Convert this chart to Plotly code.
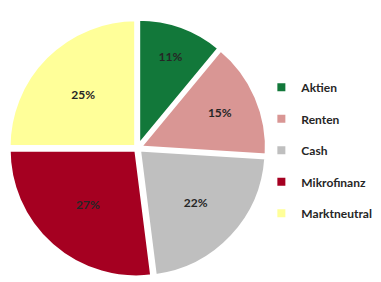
import plotly.graph_objects as go

categories = ["Aktien", "Renten", "Cash", "Mikrofinanz", "Marktneutral"]
values = [11, 15, 22, 27, 25]
colors = ["#12783a", "#d99694", "#bfbfbf", "#a50021", "#ffff99"]

fig = go.Figure()
fig.add_trace(go.Pie(
    labels=categories, values=values, sort=False, direction="clockwise", rotation=0,
    marker=dict(colors=colors, line=dict(color="white", width=4)),
    pull=[0.015] * len(values),
    texttemplate="%{value}%", textposition="inside", insidetextorientation="horizontal",
    textfont=dict(family="Lato", size=12, color="#262626", weight="bold"),
    showlegend=False, hoverinfo="label+percent",
    domain=dict(x=[0.0, 0.68], y=[0.03, 0.975]),
))
for c, col in zip(categories, colors):
    fig.add_trace(go.Scatter(
        x=[None], y=[None], mode="markers", name=c, legendgroup=c,
        marker=dict(symbol="square", size=8, color=col),
    ))
fig.update_layout(
    width=381, height=282, margin=dict(l=0, r=0, t=0, b=0),
    paper_bgcolor="white", plot_bgcolor="white",
    xaxis=dict(visible=False), yaxis=dict(visible=False),
    legend=dict(x=0.665, y=0.77, yanchor="top", xanchor="left", tracegroupgap=12.5,
                bgcolor="rgba(0,0,0,0)",
                font=dict(family="Lato", size=12, color="#262626", weight="bold"), itemwidth=30),
    font=dict(family="Lato"),
)
fig.write_html("out.html")
